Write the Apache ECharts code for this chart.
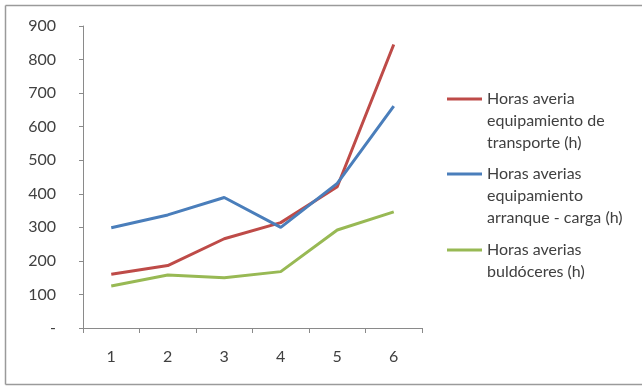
<!DOCTYPE html>
<html><head><meta charset="utf-8">
<script src="https://cdn.jsdelivr.net/npm/echarts@6/dist/echarts.min.js"></script>
<style>html,body{margin:0;padding:0;background:#fff;overflow:hidden}#c{width:642px;height:386px}</style>
</head><body><div id="c"></div>
<script>
const categories = ['1','2','3','4','5','6'];
const transporte = [160, 186, 266, 314, 421, 845];
const arranque = [299, 337, 389, 300, 431, 661];
const buldoceres = [125, 158, 150, 168, 292, 346];
const yTicks = [0,100,200,300,400,500,600,700,800,900];
const names = ['Horas averia\nequipamiento de\ntransporte (h)','Horas averias\nequipamiento\narranque - carga (h)','Horas averias\nbuldóceres (h)'];
const colors = ['#BE4B48','#4A7EBB','#98B954'];
const font = 'Lato, "Open Sans", sans-serif';
const chart = echarts.init(document.getElementById('c'));
function leg(i, top){
  return {data:[names[i]], left:447, top:top, padding:0, icon:'rect', itemWidth:35, itemHeight:3, itemGap:0, selectedMode:false,
    formatter: n => { const k = n.split('\n').length - 1; return ' \n'.repeat(k) + n; },
    textStyle:{fontFamily:font, fontSize:16, color:'#404040', lineHeight:22}};
}
chart.setOption({
  animation:false,
  backgroundColor:'#fff',
  graphic:[
    {type:'line', shape:{x1:5.5,y1:5.5,x2:660,y2:5.5}, style:{stroke:'#9a9a9a', lineWidth:1.5}, silent:true},
    {type:'line', shape:{x1:5.5,y1:5.5,x2:5.5,y2:384.5}, style:{stroke:'#9a9a9a', lineWidth:1.5}, silent:true},
    {type:'line', shape:{x1:5.5,y1:384.5,x2:660,y2:384.5}, style:{stroke:'#9a9a9a', lineWidth:1.5}, silent:true}
  ],
  grid:{left:83, top:26, right:220, bottom:58},
  legend:[leg(0,44), leg(1,119), leg(2,217)],
  xAxis:{type:'category', data:categories, boundaryGap:true,
    axisLine:{lineStyle:{color:'#8a8a8a', width:1}},
    axisTick:{show:true, length:5, lineStyle:{color:'#8a8a8a'}},
    axisLabel:{fontFamily:font, fontSize:16, color:'#404040', margin:21}},
  yAxis:{type:'value', min:0, max:900, interval:100,
    axisLine:{show:true, lineStyle:{color:'#8a8a8a'}},
    axisTick:{show:true, length:4, lineStyle:{color:'#8a8a8a'}},
    splitLine:{show:false},
    axisLabel:{fontFamily:font, fontSize:16, color:'#404040', margin:27, formatter:v=> v===0?'-':String(v)}},
  series:[
    {name:names[0], type:'line', data:transporte, showSymbol:false, symbol:'none', lineStyle:{color:colors[0], width:3}, itemStyle:{color:colors[0]}},
    {name:names[1], type:'line', data:arranque, showSymbol:false, symbol:'none', lineStyle:{color:colors[1], width:3}, itemStyle:{color:colors[1]}},
    {name:names[2], type:'line', data:buldoceres, showSymbol:false, symbol:'none', lineStyle:{color:colors[2], width:3}, itemStyle:{color:colors[2]}}
  ]
});
</script></body></html>
